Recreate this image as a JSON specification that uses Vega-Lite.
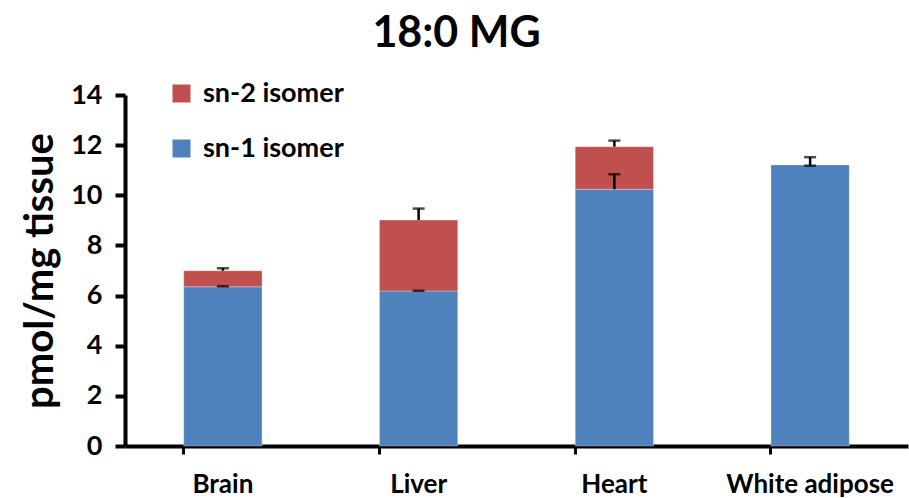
{
  "$schema": "https://vega.github.io/schema/vega-lite/v6.json",
  "width": 783,
  "height": 351,
  "autosize": "none",
  "padding": {"left": 125, "top": 95, "right": 1, "bottom": 52},
  "background": "white",
  "config": {
    "font": "Lato",
    "view": {"stroke": null}
  },
  "title": {
    "text": "18:0 MG",
    "fontSize": 43,
    "fontWeight": "bold",
    "font": "Lato",
    "color": "black",
    "anchor": "middle",
    "dx": -60,
    "offset": 24
  },
  "datasets": {
    "bars": [
      {"tissue": "Brain", "isomer": "sn-1 isomer", "value": 6.35},
      {"tissue": "Brain", "isomer": "sn-2 isomer", "value": 0.64},
      {"tissue": "Liver", "isomer": "sn-1 isomer", "value": 6.18},
      {"tissue": "Liver", "isomer": "sn-2 isomer", "value": 2.83},
      {"tissue": "Heart", "isomer": "sn-1 isomer", "value": 10.24},
      {"tissue": "Heart", "isomer": "sn-2 isomer", "value": 1.70},
      {"tissue": "White adipose", "isomer": "sn-1 isomer", "value": 11.21}
    ],
    "errs": [
      {"tissue": "Brain", "lo": 6.35, "hi": 6.37},
      {"tissue": "Brain", "lo": 6.99, "hi": 7.09},
      {"tissue": "Liver", "lo": 6.18, "hi": 6.19},
      {"tissue": "Liver", "lo": 9.01, "hi": 9.47},
      {"tissue": "Heart", "lo": 10.24, "hi": 10.84},
      {"tissue": "Heart", "lo": 11.94, "hi": 12.18},
      {"tissue": "White adipose", "lo": 11.18, "hi": 11.52}
    ],
    "caps": [
      {"tissue": "Brain", "y": 6.37},
      {"tissue": "Brain", "y": 7.09},
      {"tissue": "Liver", "y": 6.19},
      {"tissue": "Liver", "y": 9.47},
      {"tissue": "Heart", "y": 10.84},
      {"tissue": "Heart", "y": 12.18},
      {"tissue": "White adipose", "y": 11.52},
      {"tissue": "White adipose", "y": 11.18}
    ]
  },
  "encoding": {
    "x": {
      "field": "tissue",
      "type": "nominal",
      "sort": ["Brain", "Liver", "Heart", "White adipose"],
      "scale": {"paddingInner": 0.6, "paddingOuter": 0.3},
      "axis": {
        "title": null,
        "labelAngle": 0,
        "labelFontSize": 26,
        "labelFontWeight": "bold",
        "labelColor": "black",
        "labelPadding": 17,
        "domainColor": "black",
        "domainWidth": 4,
        "tickColor": "black",
        "tickWidth": 3,
        "tickSize": 8,
        "bandPosition": 0
      }
    }
  },
  "layer": [
    {
      "data": {"name": "bars"},
      "mark": {"type": "bar", "stroke": "white", "strokeWidth": 0.5, "strokeOpacity": 0.6},
      "encoding": {
        "y": {
          "field": "value",
          "type": "quantitative",
          "stack": "zero",
          "scale": {"domain": [0, 14]},
          "axis": {
            "title": "pmol/mg tissue",
            "titleFontSize": 40,
            "titleFontWeight": "bold",
            "titleColor": "black",
            "titlePadding": 10,
            "values": [0, 2, 4, 6, 8, 10, 12, 14],
            "grid": false,
            "labelFontSize": 27,
            "labelFontWeight": "bold",
            "labelColor": "black",
            "labelPadding": 13,
            "domainColor": "black",
            "domainWidth": 4,
            "tickColor": "black",
            "tickWidth": 4,
            "tickSize": 10
          }
        },
        "color": {
          "field": "isomer",
          "type": "nominal",
          "scale": {"domain": ["sn-2 isomer", "sn-1 isomer"], "range": ["#C0504D", "#4F81BD"]},
          "legend": {
            "title": null,
            "orient": "none",
            "legendX": 43,
            "legendY": -15,
            "symbolType": "square",
            "symbolSize": 324,
            "symbolStrokeWidth": 0,
            "labelFontSize": 27,
            "labelFontWeight": "bold",
            "labelColor": "black",
            "labelOffset": 8,
            "rowPadding": 27
          }
        },
        "order": {"field": "isomer", "sort": "ascending"}
      }
    },
    {
      "data": {"name": "errs"},
      "mark": {"type": "rule", "color": "black", "strokeWidth": 2.5},
      "encoding": {
        "y": {"field": "lo", "type": "quantitative"},
        "y2": {"field": "hi"}
      }
    },
    {
      "data": {"name": "caps"},
      "mark": {"type": "tick", "color": "black", "size": 12, "thickness": 2.5, "orient": "horizontal"},
      "encoding": {
        "y": {"field": "y", "type": "quantitative"}
      }
    }
  ]
}
